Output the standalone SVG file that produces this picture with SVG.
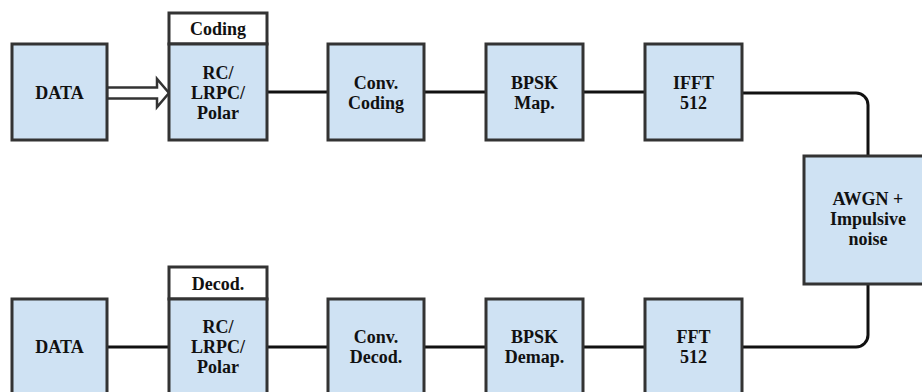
<svg xmlns="http://www.w3.org/2000/svg" width="922" height="392" viewBox="0 0 922 392">
<style>
.box{fill:#cfe2f3;stroke:#333;stroke-width:3}
.lbl{fill:#fff;stroke:#333;stroke-width:3}
.t{font-family:'Liberation Serif','DejaVu Serif',serif;font-weight:700;font-size:18px;text-anchor:middle;fill:#111}
.c{fill:none;stroke:#111;stroke-width:3}
</style>
<rect width="922" height="392" fill="#fff"/>
<g id="connectors">
<polygon points="107,87.5 157,87.5 157,79 169,93 157,107 157,98.5 107,98.5" fill="#fff" stroke="#333" stroke-width="2.5" stroke-linejoin="miter"/>
<line class="c" x1="267" y1="92" x2="328" y2="92"/>
<line class="c" x1="424" y1="92" x2="486" y2="92"/>
<line class="c" x1="583" y1="92" x2="645" y2="92"/>
<path class="c" d="M742,93 H856 A12,12 0 0 1 868,105 V156"/>
<path class="c" d="M868,284 V335 A12,12 0 0 1 856,347 H742"/>
<line class="c" x1="107" y1="347" x2="169" y2="347"/>
<line class="c" x1="267" y1="347" x2="328" y2="347"/>
<line class="c" x1="424" y1="347" x2="486" y2="347"/>
<line class="c" x1="583" y1="347" x2="645" y2="347"/>
</g>
<g id="data-tx"><rect class="box" x="12" y="44" width="95" height="96"/><text class="t" x="59.5" y="99">DATA</text></g>
<g id="coding-label"><rect class="lbl" x="169" y="13" width="98" height="31"/><text class="t" x="218" y="35">Coding</text></g>
<g id="rc-tx"><rect class="box" x="169" y="44" width="98" height="96"/><text class="t" x="218" y="79">RC/</text><text class="t" x="218" y="99">LRPC/</text><text class="t" x="218" y="119">Polar</text></g>
<g id="conv-coding"><rect class="box" x="328" y="44" width="96" height="96"/><text class="t" x="376" y="89">Conv.</text><text class="t" x="376" y="109">Coding</text></g>
<g id="bpsk-map"><rect class="box" x="486" y="44" width="97" height="96"/><text class="t" x="534.5" y="89">BPSK</text><text class="t" x="534.5" y="109">Map.</text></g>
<g id="ifft"><rect class="box" x="645" y="44" width="97" height="96"/><text class="t" x="693.5" y="89">IFFT</text><text class="t" x="693.5" y="109">512</text></g>
<g id="awgn"><rect class="box" x="804" y="156" width="130" height="128"/><text class="t" x="868" y="205">AWGN +</text><text class="t" x="868" y="225">Impulsive</text><text class="t" x="868" y="245">noise</text></g>
<g id="data-rx"><rect class="box" x="12" y="299" width="95" height="100"/><text class="t" x="59.5" y="353">DATA</text></g>
<g id="decod-label"><rect class="lbl" x="169" y="267" width="98" height="32"/><text class="t" x="218" y="290">Decod.</text></g>
<g id="rc-rx"><rect class="box" x="169" y="299" width="98" height="100"/><text class="t" x="218" y="333">RC/</text><text class="t" x="218" y="353">LRPC/</text><text class="t" x="218" y="373">Polar</text></g>
<g id="conv-decod"><rect class="box" x="328" y="299" width="96" height="100"/><text class="t" x="376" y="343">Conv.</text><text class="t" x="376" y="363">Decod.</text></g>
<g id="bpsk-demap"><rect class="box" x="486" y="299" width="97" height="100"/><text class="t" x="534.5" y="343">BPSK</text><text class="t" x="534.5" y="363">Demap.</text></g>
<g id="fft"><rect class="box" x="645" y="299" width="97" height="100"/><text class="t" x="693.5" y="343">FFT</text><text class="t" x="693.5" y="363">512</text></g>
</svg>
